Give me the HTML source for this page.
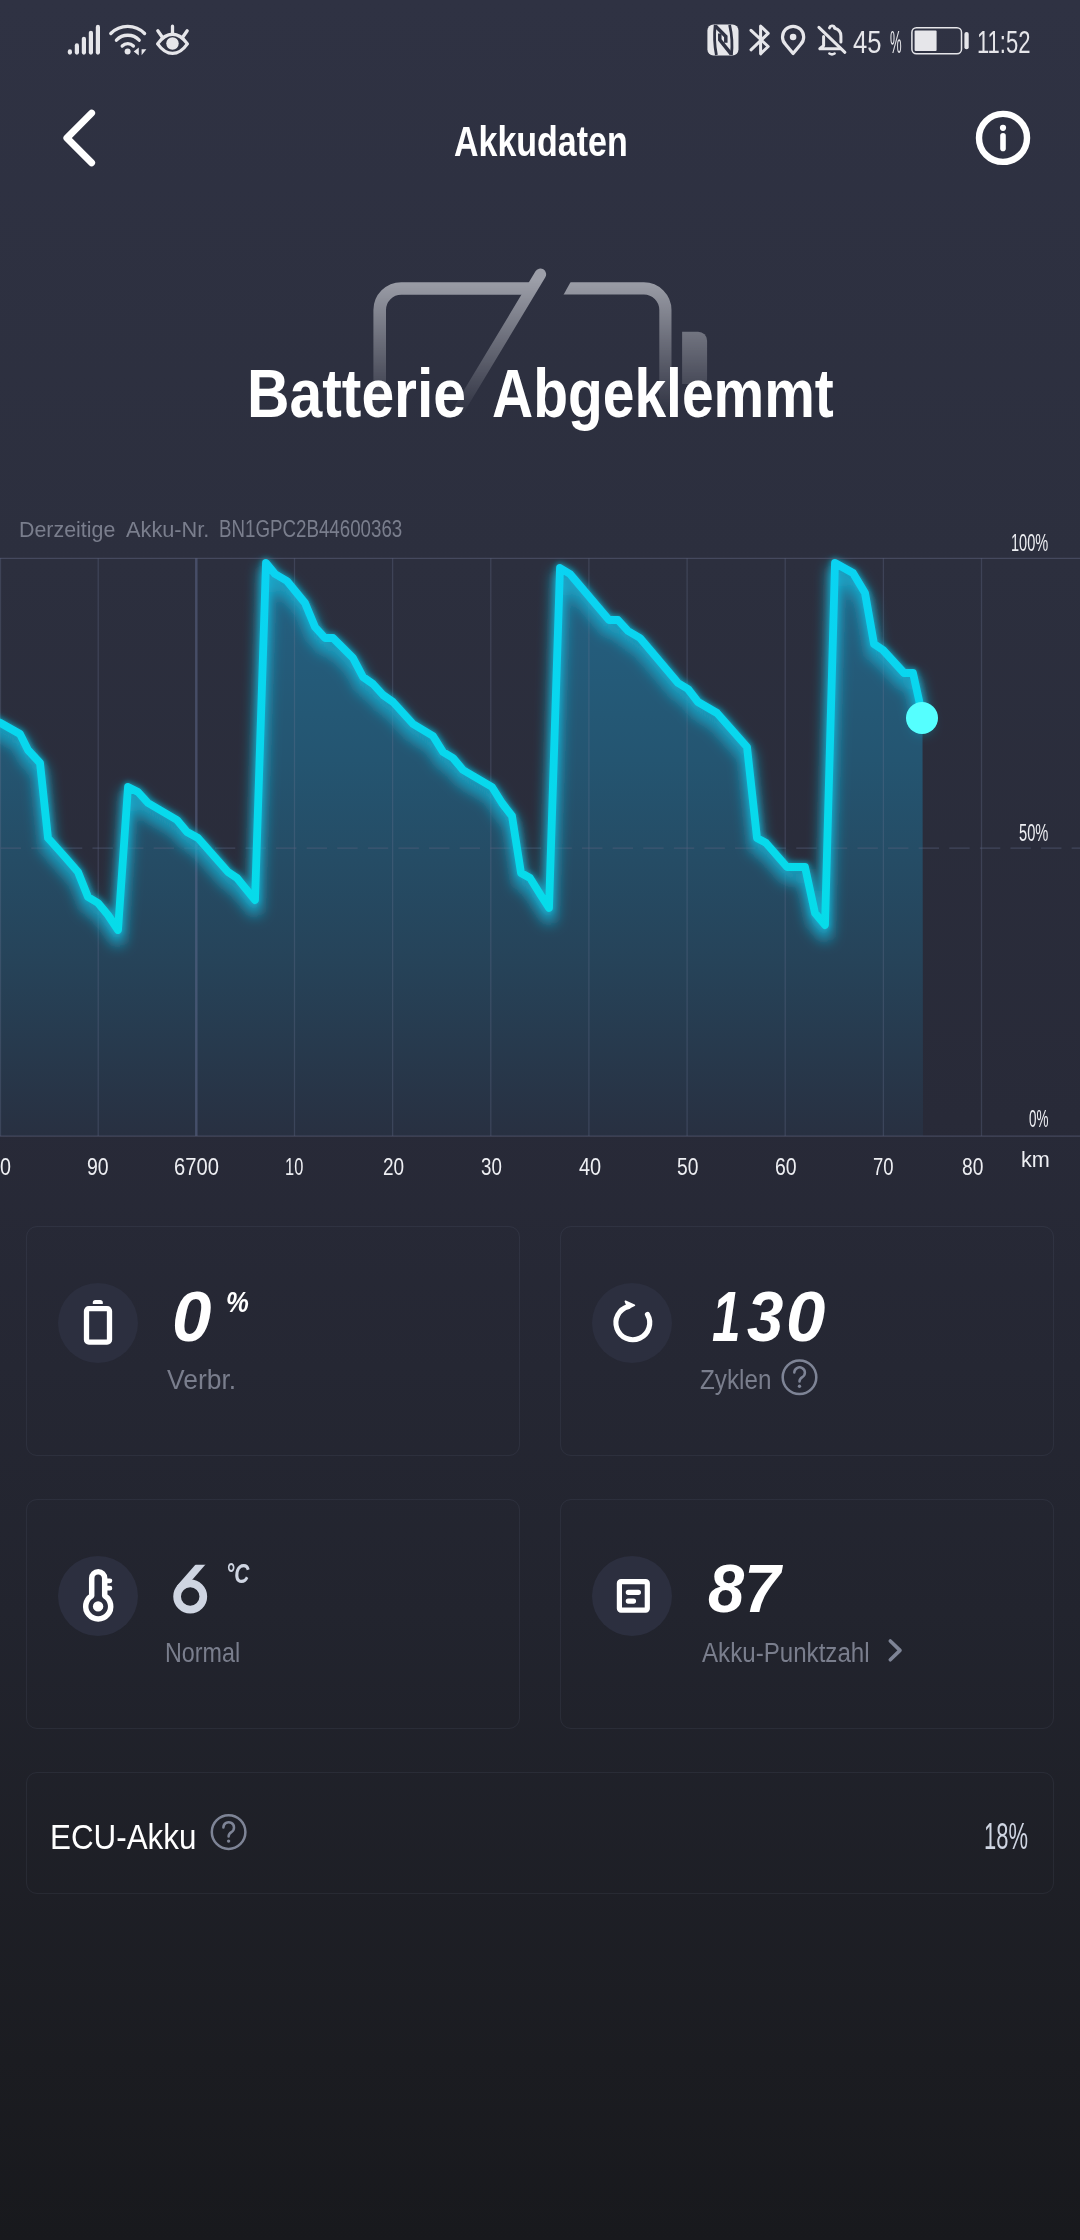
<!DOCTYPE html>
<html lang="de">
<head>
<meta charset="utf-8">
<title>Akkudaten</title>
<style>
html,body{margin:0;padding:0;}
body{width:1080px;height:2240px;overflow:hidden;position:relative;
 font-family:"Liberation Sans",sans-serif;
 background:linear-gradient(180deg,#2f3243 0%,#2c2f3e 25%,#282a38 50%,#22242e 72%,#1b1c21 92%,#18191d 100%);}
.t{position:absolute;white-space:nowrap;line-height:1;transform-origin:0 0;display:block;}
.card{position:absolute;box-sizing:border-box;border:1px solid rgba(150,160,200,0.085);border-radius:11px;}
.ic{position:absolute;width:80px;height:80px;border-radius:50%;background:#2c2f3f;}
svg.ov{position:absolute;left:0;top:0;}
</style>
</head>
<body>
<!-- cards -->
<div class="card" style="left:26px;top:1226px;width:494px;height:230px"></div>
<div class="card" style="left:560px;top:1226px;width:494px;height:230px"></div>
<div class="card" style="left:26px;top:1499px;width:494px;height:230px"></div>
<div class="card" style="left:560px;top:1499px;width:494px;height:230px"></div>
<div class="card" style="left:26px;top:1772px;width:1028px;height:122px"></div>
<div class="ic" style="left:58px;top:1283px"></div>
<div class="ic" style="left:592px;top:1283px"></div>
<div class="ic" style="left:58px;top:1556px"></div>
<div class="ic" style="left:592px;top:1556px"></div>

<svg class="ov" width="1080" height="2240" viewBox="0 0 1080 2240">
<defs>
 <linearGradient id="fillg" gradientUnits="userSpaceOnUse" x1="0" y1="558" x2="0" y2="1136">
  <stop offset="0" stop-color="#246283"/>
  <stop offset="0.35" stop-color="#245571"/>
  <stop offset="0.7" stop-color="#264359"/>
  <stop offset="1" stop-color="#283041"/>
 </linearGradient>
 <linearGradient id="lineg" gradientUnits="userSpaceOnUse" x1="0" y1="558" x2="0" y2="940">
  <stop offset="0" stop-color="#0ad3f2"/><stop offset="1" stop-color="#06dce9"/>
 </linearGradient>
 <linearGradient id="batg" gradientUnits="userSpaceOnUse" x1="0" y1="280" x2="0" y2="417">
  <stop offset="0" stop-color="#fff" stop-opacity="0.93"/>
  <stop offset="1" stop-color="#fff" stop-opacity="0"/>
 </linearGradient>
 <mask id="batm" maskUnits="userSpaceOnUse" x="350" y="250" width="400" height="200"><rect x="350" y="250" width="400" height="200" fill="url(#batg)"/></mask>
 <clipPath id="bcut"><path d="M570.6 282L700 282L700 440L482.8 440Z"/></clipPath>
 <clipPath id="sixclip"><rect x="150" y="1564.85" width="80" height="60"/></clipPath>
 <filter id="glow" x="-5%" y="-5%" width="110%" height="110%"><feGaussianBlur stdDeviation="6.5"/></filter>
 <filter id="glow2" x="-5%" y="-5%" width="110%" height="110%"><feGaussianBlur stdDeviation="2.6"/></filter>
 <clipPath id="chartclip"><rect x="0" y="540" width="1080" height="596"/></clipPath>
</defs>

<!-- big battery icon -->
<g mask="url(#batm)" fill="none" stroke="#a5a7b0">
 <path d="M379.7 430V310.05a21.6 21.6 0 0 1 21.6 -21.6H533" stroke-width="12.6"/>
 <path d="M550 288.45H643.8a21.6 21.6 0 0 1 21.6 21.6V430" stroke-width="12.2" clip-path="url(#bcut)"/>
 <path d="M540.4 274.3L452.7 420" stroke-width="11.5" stroke-linecap="round"/>
 <path d="M682.1 331.7H698.1a9 9 0 0 1 9 9V379a5 5 0 0 1 -5 5H682.1Z" fill="#a5a7b0" stroke="none"/>
</g>

<!-- chart -->
<g clip-path="url(#chartclip)">
 <path id="area" d="M-10 718 L0 722.7 L20 734 L28 750 L40 763 L48 838 L65 857 L78 872 L88 897 L98 903 L108 915 L118 930 L128 787 L138 792 L148 803 L177 820 L187 832 L198 838 L228 872 L237 878 L255 900 L266 563 L275 574 L287 581 L305 603 L315 627 L325 638 L333 638 L353 658 L363 677 L373 684 L383 695 L393 702 L413 724 L433 736 L443 752 L453 758 L463 770 L492 787 L502 803 L512 816 L521 873 L530 878 L540 894 L549 908 L560 568 L570 574 L609 620 L618 620 L628 631 L640 638 L678 683 L688 689 L698 702 L717 713 L747 747 L757 838 L766 843 L787 867 L805 867 L815 913 L825 925 L835 563 L853 573 L865 593 L874 644 L883 650 L904 673 L913 673 L922.5 716 L923 1136 L-10 1136 Z" fill="url(#fillg)"/>
 <g stroke="#6a7392" stroke-opacity="0.30" stroke-width="1.3">
  <path d="M0.5 558V1136M98.2 558V1136M294.5 558V1136M392.6 558V1136M490.8 558V1136M588.9 558V1136M687.1 558V1136M785.2 558V1136M883.4 558V1136M981.5 558V1136"/>
 </g>
 <path d="M196.3 558V1136" stroke="#616c90" stroke-opacity="0.5" stroke-width="2.5"/>
 <path d="M0 848.2H1080" stroke="#59617e" stroke-opacity="0.5" stroke-width="1.2" stroke-dasharray="20.4 10.2" stroke-dashoffset="-0.65"/>
 <polyline points="-10,718 0,722.7 20,734 28,750 40,763 48,838 65,857 78,872 88,897 98,903 108,915 118,930 128,787 138,792 148,803 177,820 187,832 198,838 228,872 237,878 255,900 266,563 275,574 287,581 305,603 315,627 325,638 333,638 353,658 363,677 373,684 383,695 393,702 413,724 433,736 443,752 453,758 463,770 492,787 502,803 512,816 521,873 530,878 540,894 549,908 560,568 570,574 609,620 618,620 628,631 640,638 678,683 688,689 698,702 717,713 747,747 757,838 766,843 787,867 805,867 815,913 825,925 835,563 853,573 865,593 874,644 883,650 904,673 913,673 922.5,716" fill="none" stroke="#12cdea" stroke-opacity="0.45" stroke-width="11" stroke-linejoin="round" stroke-linecap="round" filter="url(#glow2)"/>
 <polyline points="-10,718 0,722.7 20,734 28,750 40,763 48,838 65,857 78,872 88,897 98,903 108,915 118,930 128,787 138,792 148,803 177,820 187,832 198,838 228,872 237,878 255,900 266,563 275,574 287,581 305,603 315,627 325,638 333,638 353,658 363,677 373,684 383,695 393,702 413,724 433,736 443,752 453,758 463,770 492,787 502,803 512,816 521,873 530,878 540,894 549,908 560,568 570,574 609,620 618,620 628,631 640,638 678,683 688,689 698,702 717,713 747,747 757,838 766,843 787,867 805,867 815,913 825,925 835,563 853,573 865,593 874,644 883,650 904,673 913,673 922.5,716" fill="none" stroke="#14b0d4" stroke-opacity="0.85" stroke-width="14" stroke-linejoin="round" stroke-linecap="round" filter="url(#glow)" transform="translate(0,9)"/>
 <polyline points="-10,718 0,722.7 20,734 28,750 40,763 48,838 65,857 78,872 88,897 98,903 108,915 118,930 128,787 138,792 148,803 177,820 187,832 198,838 228,872 237,878 255,900 266,563 275,574 287,581 305,603 315,627 325,638 333,638 353,658 363,677 373,684 383,695 393,702 413,724 433,736 443,752 453,758 463,770 492,787 502,803 512,816 521,873 530,878 540,894 549,908 560,568 570,574 609,620 618,620 628,631 640,638 678,683 688,689 698,702 717,713 747,747 757,838 766,843 787,867 805,867 815,913 825,925 835,563 853,573 865,593 874,644 883,650 904,673 913,673 922.5,716" fill="none" stroke="url(#lineg)" stroke-width="7.8" stroke-linejoin="round" stroke-linecap="round"/>
</g>
<path d="M0 558.4H1080M0 1136.2H1080" stroke="#565b74" stroke-opacity="0.6" stroke-width="1.3"/>
<circle cx="922" cy="718" r="16" fill="#55ffff"/>

<!-- header icons -->
<polyline points="91.6,113.1 66.9,138 91.6,162.7" fill="none" stroke="#fff" stroke-width="7" stroke-linecap="round" stroke-linejoin="round"/>
<circle cx="1003" cy="137.9" r="24" fill="none" stroke="#fff" stroke-width="6.4"/>
<circle cx="1003" cy="127.8" r="3.1" fill="#fff"/>
<path d="M1003 135.8V148.4" stroke="#fff" stroke-width="5.6" stroke-linecap="round"/>

<!-- status bar left -->
<g fill="#e6e6ea">
 <rect x="67.8" y="49.3" width="4.2" height="5.4" rx="2.1"/>
 <rect x="74.8" y="43.3" width="4.2" height="11.4" rx="2.1"/>
 <rect x="81.8" y="36.7" width="4.2" height="18" rx="2.1"/>
 <rect x="88.8" y="30.7" width="4.2" height="24" rx="2.1"/>
 <rect x="95.8" y="24.8" width="4.2" height="29.9" rx="2.1"/>
 <circle cx="127.6" cy="51.4" r="3"/>
 <path d="M133.7 51.5L138.8 47.4V55.5Z M141.6 49.2H146.4L141.6 55.3Z"/>
 <circle cx="172.5" cy="43.5" r="6.25"/>
</g>
<g fill="none" stroke="#e6e6ea" stroke-width="3.3" stroke-linecap="round">
 <path d="M110.8 33.5A23.6 23.6 0 0 1 144.6 33.5"/>
 <path d="M116.4 40.2A15.6 15.6 0 0 1 139.2 40.2"/>
 <path d="M122.2 46A8 8 0 0 1 133.4 46"/>
 <path d="M157.6 43.85C162.5 37 167 34.25 172.5 34.25C178 34.25 182.5 37 187.4 43.85C182.5 50.7 178 53.45 172.5 53.45C167 53.45 162.5 50.7 157.6 43.85Z" stroke-linejoin="round"/>
 <path d="M172.5 26.2V33.5M157.8 30.8L162 36.8M187.2 30.8L183 36.8"/>
</g>

<!-- status bar right -->
<g id="nfc">
 <rect x="707.4" y="24.5" width="31.1" height="30.9" rx="6" fill="#e6e6ea"/>
 <g fill="none" stroke="#2f3243" stroke-linejoin="miter">
  <path d="M715.2 25Q713.4 40 716.4 55" stroke-width="2.8"/>
  <path d="M729.6 25Q733.2 40 731.4 55" stroke-width="2.8"/>
  <path d="M715.4 26L725.8 36.4V42.8" stroke-width="3.5"/>
  <path d="M719.8 33.6V39.8L731.2 54.2" stroke-width="3.5"/>
 </g>
</g>
<path d="M751 30.4L768.2 46.5L760.6 53.8V26L768.2 33.4L751 49.8" fill="none" stroke="#e6e6ea" stroke-width="3" stroke-linejoin="round" stroke-linecap="round"/>
<path d="M793.1 53.6L785.6 44.4A10.6 10.6 0 1 1 800.6 44.4Z" fill="none" stroke="#e6e6ea" stroke-width="3.2" stroke-linejoin="round"/>
<circle cx="793.1" cy="37" r="3.3" fill="#e6e6ea"/>
<g fill="none" stroke="#e6e6ea" stroke-width="3" stroke-linecap="round" stroke-linejoin="round">
 <path d="M823.6 36.4V45.6L819.8 48.7H840.4"/>
 <path d="M840.9 42V36C840.9 31.6 838 29 834.6 28.2"/>
 <path d="M829.4 28a2.9 2.9 0 0 1 5.4 -0.4" stroke-width="2.8"/>
 <path d="M818.9 27.4L844.9 52.3"/>
 <path d="M829.4 53.5Q832 55.2 834.6 53.5" stroke-width="2.6"/>
</g>
<rect x="911.9" y="27.7" width="49.6" height="26" rx="4.5" fill="none" stroke="#e6e6ea" stroke-width="1.5"/>
<rect x="914.6" y="30.4" width="22" height="20.6" rx="1" fill="#e6e6ea"/>
<rect x="964.4" y="32" width="4.3" height="17.3" rx="2.1" fill="#e6e6ea"/>

<!-- card icons -->
<rect x="86.5" y="1308.7" width="23" height="33.4" rx="2.4" fill="none" stroke="#fff" stroke-width="5.3"/>
<path d="M92.8 1304.1V1302.5a2.6 2.6 0 0 1 2.6 -2.6h4.8a2.6 2.6 0 0 1 2.6 2.6V1304.1Z" fill="#fff"/>

<path d="M647.44 1314.35A16.9 16.9 0 1 1 628.43 1306.48" fill="none" stroke="#fff" stroke-width="5.1" stroke-linecap="round"/>
<path d="M625.5 1301.3L634.3 1305.3L628.3 1308.3Z" fill="#fff" stroke="#fff" stroke-width="1.8" stroke-linejoin="round"/>

<g fill="none" stroke="#fff" stroke-linejoin="round" stroke-linecap="round">
 <path d="M91.7 1595.8V1578.25a6.5 6.5 0 0 1 13 0V1595.8A12.5 12.5 0 1 1 91.7 1595.8Z" stroke-width="5.5"/>
 <path d="M106 1580.8H109.9M106 1588.2H109.9" stroke-width="4.8"/>
</g>
<circle cx="98.1" cy="1606.4" r="5.2" fill="#fff"/>

<rect x="619.4" y="1581.7" width="27.9" height="28.4" rx="1.6" fill="none" stroke="#fff" stroke-width="5.2"/>
<path d="M628.3 1592.3H638.4M628.3 1601.1H633.5" stroke="#fff" stroke-width="5.2" stroke-linecap="round"/>

<!-- geometric 6 -->
<g fill="none" stroke="#cfd5e2" stroke-width="7.7">
 <circle cx="190.2" cy="1596.5" r="13.1"/>
 <path d="M203.4 1561.2L179.6 1588.5" clip-path="url(#sixclip)" stroke-width="7.5"/>
</g>

<!-- help icons + chevron -->
<g fill="none" stroke="#7e8496" stroke-linecap="round" stroke-linejoin="round">
 <circle cx="799.5" cy="1377.2" r="16.8" stroke-width="2.5"/>
 <path d="M794.3 1372.6a5.3 5.3 0 1 1 8 4.6c-1.8 1.1 -2.8 2.2 -2.8 4.4" stroke-width="2.5"/>
 <circle cx="228.6" cy="1832.1" r="16.8" stroke-width="2.5"/>
 <path d="M223.4 1827.5a5.3 5.3 0 1 1 8 4.6c-1.8 1.1 -2.8 2.2 -2.8 4.4" stroke-width="2.5"/>
 <path d="M890.3 1641L900 1650.4L890.3 1659.8" stroke-width="3.6"/>
</g>
<circle cx="799.5" cy="1386.2" r="1.7" fill="#7e8496"/>
<circle cx="228.6" cy="1841.1" r="1.7" fill="#7e8496"/>
</svg>

<span class="t" style="left:852.80px;top:26.80px;font-size:31.09px;color:#e6e6ea;transform:scaleX(0.8239)">45</span>
<span class="t" style="left:889.50px;top:27.55px;font-size:30.74px;color:#e6e6ea;transform:scaleX(0.4251)">%</span>
<span class="t" style="left:976.95px;top:27.80px;font-size:30.73px;color:#e6e6ea;transform:scaleX(0.7166)">11:52</span>
<span class="t" style="left:454.05px;top:120.50px;font-size:41.94px;font-weight:700;color:#ffffff;transform:scaleX(0.8103)">Akkudaten</span>
<span class="t" style="left:246.60px;top:359.20px;font-size:68.14px;font-weight:700;color:#ffffff;transform:scaleX(0.8635)">Batterie</span>
<span class="t" style="left:491.80px;top:359.20px;font-size:68.14px;font-weight:700;color:#ffffff;transform:scaleX(0.8360)">Abgeklemmt</span>
<span class="t" style="left:18.85px;top:519.25px;font-size:22.37px;color:#7a7e8d;transform:scaleX(0.9570)">Derzeitige</span>
<span class="t" style="left:126.00px;top:519.25px;font-size:22.37px;color:#7a7e8d;transform:scaleX(0.9726)">Akku-Nr.</span>
<span class="t" style="left:218.50px;top:518.25px;font-size:23.40px;color:#7a7e8d;transform:scaleX(0.8006)">BN1GPC2B44600363</span>
<span class="t" style="left:1011.40px;top:530.75px;font-size:24.09px;color:#eeeff3;transform:scaleX(0.6043)">100%</span>
<span class="t" style="left:1019.10px;top:820.75px;font-size:24.09px;color:#eeeff3;transform:scaleX(0.6083)">50%</span>
<span class="t" style="left:1028.90px;top:1106.75px;font-size:24.10px;color:#eeeff3;transform:scaleX(0.5583)">0%</span>
<span class="t" style="left:1020.80px;top:1147.90px;font-size:22.70px;color:#eeeff3;transform:scaleX(0.9539)">km</span>
<span class="t" style="left:-0.45px;top:1155.65px;font-size:23.40px;color:#eeeff3;transform:scaleX(0.8423)">0</span>
<span class="t" style="left:87.30px;top:1155.65px;font-size:23.40px;color:#eeeff3;transform:scaleX(0.8298)">90</span>
<span class="t" style="left:173.80px;top:1155.65px;font-size:23.40px;color:#eeeff3;transform:scaleX(0.8624)">6700</span>
<span class="t" style="left:285.25px;top:1155.65px;font-size:23.40px;color:#eeeff3;transform:scaleX(0.7016)">10</span>
<span class="t" style="left:382.50px;top:1155.65px;font-size:23.40px;color:#eeeff3;transform:scaleX(0.8111)">20</span>
<span class="t" style="left:480.75px;top:1155.65px;font-size:23.40px;color:#eeeff3;transform:scaleX(0.8012)">30</span>
<span class="t" style="left:578.50px;top:1155.65px;font-size:23.40px;color:#eeeff3;transform:scaleX(0.8524)">40</span>
<span class="t" style="left:676.75px;top:1155.65px;font-size:23.40px;color:#eeeff3;transform:scaleX(0.8217)">50</span>
<span class="t" style="left:775.00px;top:1155.65px;font-size:23.40px;color:#eeeff3;transform:scaleX(0.8319)">60</span>
<span class="t" style="left:873.00px;top:1155.65px;font-size:23.40px;color:#eeeff3;transform:scaleX(0.7904)">70</span>
<span class="t" style="left:961.55px;top:1155.65px;font-size:23.40px;color:#eeeff3;transform:scaleX(0.8217)">80</span>
<span class="t" style="left:171.70px;top:1281.85px;font-size:70.54px;font-weight:700;font-style:italic;color:#ffffff;transform:scaleX(1.0042)">0</span>
<span class="t" style="left:226.00px;top:1287.85px;font-size:28.99px;font-weight:700;font-style:italic;color:#ffffff;transform:scaleX(0.8861)">%</span>
<span class="t" style="left:166.55px;top:1365.50px;font-size:27.26px;color:#7a7e8d;transform:scaleX(0.9703)">Verbr.</span>
<span class="t" style="left:711.95px;top:1281.80px;font-size:70.29px;font-weight:700;font-style:italic;color:#ffffff;transform:scaleX(0.7306)">1</span>
<span class="t" style="left:746.80px;top:1281.70px;font-size:70.19px;font-weight:700;font-style:italic;color:#ffffff;transform:scaleX(0.9304)">3</span>
<span class="t" style="left:786.40px;top:1281.70px;font-size:70.19px;font-weight:700;font-style:italic;color:#ffffff;transform:scaleX(1.0072)">0</span>
<span class="t" style="left:700.05px;top:1365.55px;font-size:27.25px;color:#7a7e8d;transform:scaleX(0.8890)">Zyklen</span>
<span class="t" style="left:225.50px;top:1560.15px;font-size:27.59px;font-weight:700;font-style:italic;color:#cfd5e2;transform:scaleX(0.7579)">°C</span>
<span class="t" style="left:164.70px;top:1638.50px;font-size:27.26px;color:#7a7e8d;transform:scaleX(0.8554)">Normal</span>
<span class="t" style="left:708.05px;top:1554.90px;font-size:68.79px;font-weight:700;font-style:italic;color:#ffffff;transform:scaleX(0.9461)">87</span>
<span class="t" style="left:702.10px;top:1638.80px;font-size:27.61px;color:#7a7e8d;transform:scaleX(0.8739)">Akku-Punktzahl</span>
<span class="t" style="left:50.10px;top:1820.15px;font-size:34.96px;color:#ffffff;transform:scaleX(0.8971)">ECU-Akku</span>
<span class="t" style="left:983.95px;top:1818.50px;font-size:36.31px;color:#cfd5e2;transform:scaleX(0.6045)">18%</span>
</body>
</html>
